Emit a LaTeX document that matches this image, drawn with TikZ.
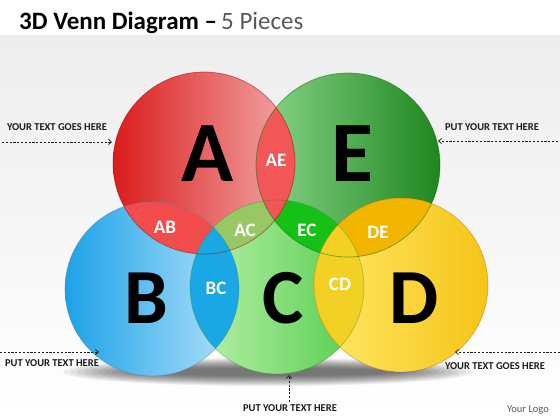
\documentclass[tikz,border=0pt]{standalone}
\usepackage{fontspec}
\setmainfont{Carlito}
\usetikzlibrary{arrows.meta}
\definecolor{redL}{HTML}{DB1C1C}
\definecolor{redR}{HTML}{F2AAAA}
\definecolor{grnL}{HTML}{8AD68A}
\definecolor{grnR}{HTML}{1F861F}
\definecolor{bluL}{HTML}{1CA2E8}
\definecolor{bluR}{HTML}{B4E2FA}
\definecolor{cL}{HTML}{BDF2AE}
\definecolor{cR}{HTML}{52CC4A}
\definecolor{yelL}{HTML}{FFE96A}
\definecolor{yelR}{HTML}{F6C416}
\definecolor{lensAB}{HTML}{F24C4C}
\definecolor{lensAC}{HTML}{98C866}
\definecolor{lensEC}{HTML}{16C016}
\definecolor{lensDE}{HTML}{F2B600}
\definecolor{lensAE}{HTML}{F25656}
\definecolor{lensBC}{HTML}{1AA8E4}
\definecolor{lensCD}{HTML}{F2D024}
\definecolor{txt}{HTML}{1A1A1A}
\definecolor{subt}{HTML}{595959}
\begin{document}
\begin{tikzpicture}[x=1pt,y=-1pt,
  bigletter/.style={font=\fontsize{86}{86}\selectfont\bfseries, text=black, inner sep=0pt},
  midletter/.style={font=\fontsize{78}{78}\selectfont\bfseries, text=black, inner sep=0pt},
  lenslabel/.style={font=\fontsize{19}{19}\selectfont\bfseries, text=white, inner sep=0pt},
  sidetext/.style={font=\fontsize{10.5}{12}\selectfont\bfseries, text=txt, inner sep=0pt, anchor=base},
  dasharrow/.style={draw=txt, line width=0.7pt, dash pattern=on 2.2pt off 1.6pt, -{Straight Barb[length=3pt,width=5pt]}},
  rim/.style={line width=0.7pt}
]
\useasboundingbox (0,0) rectangle (560,420);
% background
\fill[white] (0,0) rectangle (560,420);
\shade[top color=black!7, bottom color=white] (0,36) rectangle (560,420);
% shadow
\foreach \i in {0,...,11} {
  \fill[black, opacity=0.06] (268,372) ellipse ({205-7*\i} and {14-0.9*\i});
}
% title
\node[anchor=base west, inner sep=0pt, font=\fontsize{25}{25}\selectfont] (title) at (19,30)
  {\textbf{3D Venn Diagram --}\,\textcolor{subt}{5 Pieces}};
% circle centres
\coordinate (cA) at (204,163);
\coordinate (cE) at (348,165);
\coordinate (cB) at (152,289);
\coordinate (cC) at (277,287);
\coordinate (cD) at (401,285);
\def\rA{91}\def\rE{92}\def\rB{87}\def\rC{87}\def\rD{87}
% circles
\shade[left color=redL, right color=redR] (cA) circle[radius=\rA];
\shade[left color=grnL, right color=grnR] (cE) circle[radius=\rE];
\shade[left color=bluL, right color=bluR] (cB) circle[radius=\rB];
\shade[left color=cL, right color=cR] (cC) circle[radius=\rC];
\shade[left color=yelL, right color=yelR] (cD) circle[radius=\rD];
% lenses
\begin{scope}\clip (cA) circle[radius=\rA];
  \fill[lensAB] (cB) circle[radius=\rB];
\end{scope}
\begin{scope}\clip (cA) circle[radius=\rA];
  \fill[lensAC] (cC) circle[radius=\rC];
\end{scope}
\begin{scope}\clip (cE) circle[radius=\rE];
  \fill[lensEC] (cC) circle[radius=\rC];
\end{scope}
\begin{scope}\clip (cE) circle[radius=\rE];
  \fill[lensDE] (cD) circle[radius=\rD];
\end{scope}
\begin{scope}\clip (cA) circle[radius=\rA];
  \fill[lensAE] (cE) circle[radius=\rE];
\end{scope}
\begin{scope}\clip (cB) circle[radius=\rB];
  \fill[lensBC] (cC) circle[radius=\rC];
\end{scope}
\begin{scope}\clip (cC) circle[radius=\rC];
  \fill[lensCD] (cD) circle[radius=\rD];
\end{scope}
% rims
\draw[rim, draw=red!60!black, opacity=0.5] (cA) circle[radius=\rA];
\draw[rim, draw=green!40!black, opacity=0.5] (cE) circle[radius=\rE];
\draw[rim, draw=cyan!50!black, opacity=0.4] (cB) circle[radius=\rB];
\draw[rim, draw=green!50!black, opacity=0.3] (cC) circle[radius=\rC];
\draw[rim, draw=orange!60!black, opacity=0.35] (cD) circle[radius=\rD];
% big letters
\node[bigletter] (A) at (208,154) {A};
\node[bigletter] (E) at (352,154) {E};
\node[midletter] (B) at (146,298) {B};
\node[midletter] (C) at (283,298) {C};
\node[midletter] (D) at (414,298) {D};
% lens labels
\node[lenslabel] (AE) at (276,160) {AE};
\node[lenslabel] (AB) at (165,227) {AB};
\node[lenslabel] (AC) at (245,230) {AC};
\node[lenslabel] (EC) at (307,230) {EC};
\node[lenslabel] (DE) at (378,232) {DE};
\node[lenslabel] (BC) at (216,288) {BC};
\node[lenslabel] (CD) at (340,284) {CD};
% side texts
\node[sidetext] (t1) at (57,131) {YOUR TEXT GOES HERE};
\node[sidetext] (t2) at (492,131) {PUT YOUR TEXT HERE};
\node[sidetext] (t3) at (52,366) {PUT YOUR TEXT HERE};
\node[sidetext] (t4) at (495,369) {YOUR TEXT GOES HERE};
\node[sidetext] (t5) at (290,411) {PUT YOUR TEXT HERE};
\node[anchor=base, inner sep=0pt, font=\fontsize{10.5}{12}\selectfont, text=subt] (logo) at (528,412) {Your Logo};
% arrows
\coordinate (a1s) at (2,142);   \coordinate (a1e) at (112,142);
\coordinate (a2s) at (558,141); \coordinate (a2e) at (438,141);
\coordinate (a3s) at (0,352);   \coordinate (a3e) at (99,352);
\coordinate (a4s) at (560,352); \coordinate (a4e) at (455,352);
\coordinate (a5s) at (289,402); \coordinate (a5e) at (289,375);
\draw[dasharrow] (a1s) -- (a1e);
\draw[dasharrow] (a2s) -- (a2e);
\draw[dasharrow] (a3s) -- (a3e);
\draw[dasharrow] (a4s) -- (a4e);
\draw[dasharrow] (a5s) -- (a5e);
\end{tikzpicture}
\end{document}
